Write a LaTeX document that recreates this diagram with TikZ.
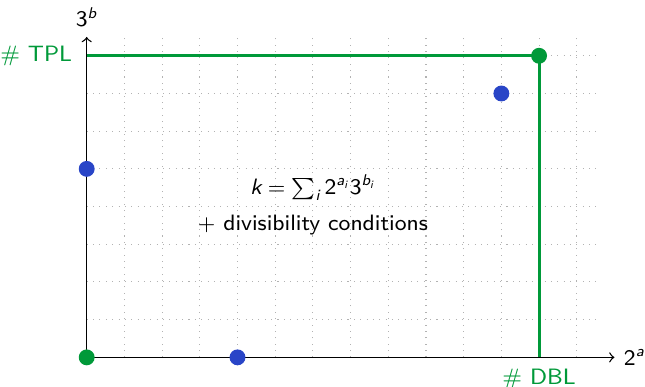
\documentclass[tikz,border=0pt]{standalone}
\usepackage{amsmath}
\usepackage{tikz}
\renewcommand{\familydefault}{\sfdefault}
\definecolor{tplgreen}{RGB}{0,153,57}
\definecolor{dotblue}{RGB}{41,69,199}
% sans-serif italic letters inside formulas
\newcommand{\sv}[1]{\textsf{\itshape #1}}
\newcommand{\sd}[1]{\textsf{#1}}

\begin{document}
\begin{tikzpicture}[x=0.5cm, y=0.5cm, font=\fontsize{8.4}{10}\selectfont]
    \tikzstyle{gridline} = [gray!60, dotted, line width=0.4pt, step=0.5cm]
    \tikzstyle{axis} = [->, black, line width=0.5pt]
    \tikzstyle{bound} = [tplgreen, line width=1.1pt]
    \tikzstyle{gdot} = [circle, fill=tplgreen, inner sep=0pt, minimum size=6pt]
    \tikzstyle{bdot} = [circle, fill=dotblue, inner sep=0pt, minimum size=6pt]

    \useasboundingbox (-2.30,-0.76) rectangle (14.81,9.48);
    \draw[gridline] (0,0) grid (13.5,8.5);

    \coordinate (o) at (0,0);
    \coordinate (xend) at (14,0);
    \coordinate (yend) at (0,8.5);
    \draw[axis] (o) -- (xend) node[right] (xlab) {$\sd{2}^{\sv{a}}$};
    \draw[axis] (o) -- (yend) node[above] (ylab) {$\sd{3}^{\sv{b}}$};

    \coordinate (tpl) at (0,8);
    \coordinate (corner) at (12,8);
    \coordinate (dbl) at (12,0);
    \draw[bound] (tpl) -- (corner) -- (dbl);
    \node[tplgreen, left=2pt] (tpllab) at (tpl) {\# TPL};
    \node[tplgreen, below=1pt] (dbllab) at (dbl) {\# DBL};

    \node[gdot] (start) at (0,0) {};
    \node[gdot] (top) at (12,8) {};
    \node[bdot] (p1) at (4,0) {};
    \node[bdot] (p2) at (0,5) {};
    \node[bdot] (p3) at (11,7) {};

    \node (formula) at (6,4.5) {$\sv{k} = \sum_{\sv{i}} \sd{2}^{\sv{a}_{\sv{i}}} \sd{3}^{\sv{b}_{\sv{i}}}$};
    \node (cond) at (6,3.5) {$+$ divisibility conditions};
\end{tikzpicture}
\end{document}
